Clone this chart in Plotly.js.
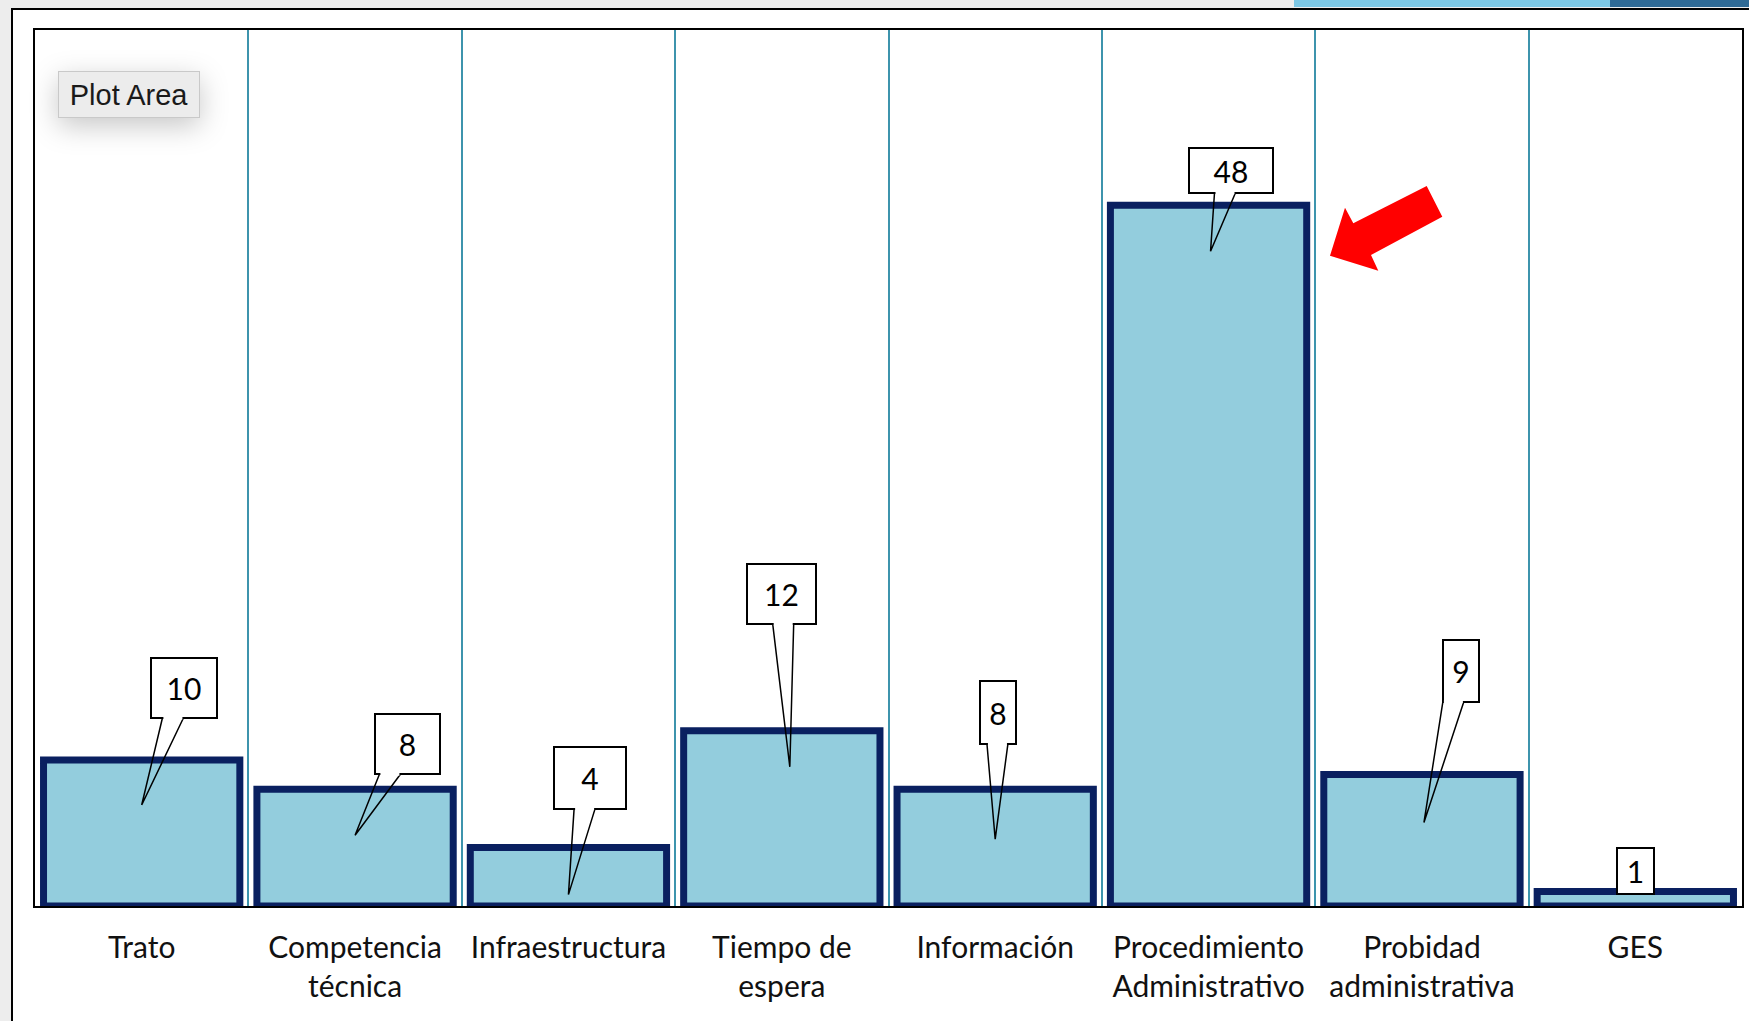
<!DOCTYPE html>
<html>
<head>
<meta charset="utf-8">
<script src="https://cdn.plot.ly/plotly-3.0.1.min.js"></script>
<style>
  html, body { margin:0; padding:0; background:#ededed; width:1749px; height:1021px; overflow:hidden; }
  #strip1 { position:absolute; left:1294px; top:0; width:316px; height:7px; background:#7cc7e4; }
  #strip2 { position:absolute; left:1610px; top:0; width:139px; height:7px; background:#2f6a95; }
  #frame { position:absolute; left:11px; top:8px; width:1740px; height:1015px; background:#fff;
           border-left:2px solid #000; border-top:2px solid #000; }
  #chart { position:absolute; left:0; top:0; width:1736px; height:1011px; }
  g.annotation[data-index="8"] rect.bg { filter: drop-shadow(0px 8px 14px rgba(0,0,0,0.22)); }
</style>
</head>
<body>
<div id="strip1"></div><div id="strip2"></div>
<div id="frame"><div id="chart"></div></div>
<script>
// ---- data ----
var categories = ['Trato', 'Competencia<br>técnica', 'Infraestructura', 'Tiempo de<br>espera',
                  'Información', 'Procedimiento<br>Administrativo', 'Probidad<br>administrativa', 'GES'];
var values = [10, 8, 4, 12, 8, 48, 9, 1];
var valueLabels = values.map(String);

// ---- callout layout (pixels) ----
var tipDown = [45, 46, 47, 36, 50, 46, 48, 0];
var tipDx   = [0, 0, 0, 8, 0, 2, 2, 0];
var boxDx   = [42, 52, 22, -8, 3, 20, 37, 0];
var boxDy   = [-117, -91, -117, -173, -127, -81, -152, 0];
var boxW    = [68, 67, 74, 71, 38, 86, 38, 39];
var boxH    = [62, 62, 64, 62, 65, 47, 64, 48];

var FONT = 'Lato, "Open Sans", sans-serif';
var W = 1736, H = 1011;
var M = {l:22, r:7, t:20, b:115};
var plotW = W - M.l - M.r, plotH = H - M.t - M.b;
function px2paper(x, y) { // page pixels -> paper coords
  return [((x - 13) - M.l) / plotW, 1 - ((y - 10) - M.t) / plotH];
}

var annotations = [];
for (var i = 0; i < values.length; i++) {
  var a = {
    x: categories[i], y: values[i], xref: 'x', yref: 'y',
    text: valueLabels[i],
    font: {family: FONT, size: 30, color: '#000'},
    bgcolor: '#fff', bordercolor: '#000', borderwidth: 2, borderpad: 0,
    width: boxW[i] - 4, height: boxH[i] - 4, align: 'center', valign: 'middle'
  };
  if (i === values.length - 1) {
    a.showarrow = false; a.yshift = 20; a.yanchor = 'middle';
  } else {
    a.showarrow = true; a.arrowhead = 0; a.arrowwidth = 1.5; a.arrowcolor = '#000';
    a.xshift = tipDx[i]; a.yshift = -tipDown[i];
    a.ax = boxDx[i]; a.ay = boxDy[i];
  }
  annotations.push(a);
}
// "Plot Area" tooltip
var pa = px2paper(58, 71);
annotations.push({
  xref: 'paper', yref: 'paper', x: pa[0], y: pa[1], xanchor: 'left', yanchor: 'top',
  showarrow: false, text: 'Plot Area',
  font: {family: '"Liberation Sans", Arial, sans-serif', size: 29, color: '#1a1a1a'},
  bgcolor: '#ececec', bordercolor: '#c9c9c9', borderwidth: 1, borderpad: 0,
  width: 140, height: 45
});

// red block arrow
var arrowPts = [[1330,255.7],[1345,207.7],[1353.3,223.3],[1426.7,186],[1442.3,216.7],[1371,255],[1378.3,270.7]];
var path = arrowPts.map(function(p, k) { var q = px2paper(p[0], p[1]); return (k ? 'L' : 'M') + q[0].toFixed(5) + ',' + q[1].toFixed(5); }).join(' ') + ' Z';

var trace = {
  type: 'bar', x: categories, y: values,
  marker: {color: '#93cddd', line: {color: '#0a2060', width: 7}},
  hoverinfo: 'none'
};

var layout = {
  width: W, height: H, margin: M,
  paper_bgcolor: '#fff', plot_bgcolor: '#fff',
  bargap: 0.08, showlegend: false,
  xaxis: {
    type: 'category', tickson: 'boundaries', ticks: '',
    showgrid: true, gridcolor: '#3d94ad', gridwidth: 2,
    showline: true, mirror: true, linecolor: '#000', linewidth: 2,
    tickfont: {family: FONT, size: 30, color: '#111'}, ticklabelstandoff: 14
  },
  yaxis: {
    range: [0, 60], showticklabels: false, showgrid: false, zeroline: false, ticks: '',
    showline: true, mirror: true, linecolor: '#000', linewidth: 2
  },
  annotations: annotations,
  shapes: [{type: 'path', xref: 'paper', yref: 'paper', path: path, fillcolor: '#ff0000', line: {width: 0}}]
};

Plotly.newPlot('chart', [trace], layout, {displayModeBar: false, staticPlot: true}).then(function(gd) {
  // turn the straight callout pointers into open wedges (callout style)
  var NS = 'http://www.w3.org/2000/svg';
  gd.querySelectorAll('g.annotation-arrow-g path').forEach(function(p) {
    var nums = (p.getAttribute('d') || '').match(/-?\d+(\.\d+)?/g);
    if (!nums || nums.length < 4) return;
    var tx = +nums[0], ty = +nums[1], hx = +nums[2], hy = +nums[3];
    var hw = 10.5;
    p.setAttribute('d', 'M' + (tx - hw) + ',' + ty + 'L' + hx + ',' + hy + 'L' + (tx + hw) + ',' + ty);
    p.style.fill = 'none';
    p.style.strokeDasharray = 'none';
    p.removeAttribute('stroke-dasharray');
    p.style.strokeLinejoin = 'miter';
    var gap = document.createElementNS(NS, 'path');
    gap.setAttribute('d', 'M' + (tx - hw + 1) + ',' + ty + 'L' + (tx + hw - 1) + ',' + ty);
    gap.setAttribute('style', 'stroke:#fff;stroke-width:3;fill:none');
    p.parentNode.appendChild(gap);
  });
});
</script>
</body>
</html>
